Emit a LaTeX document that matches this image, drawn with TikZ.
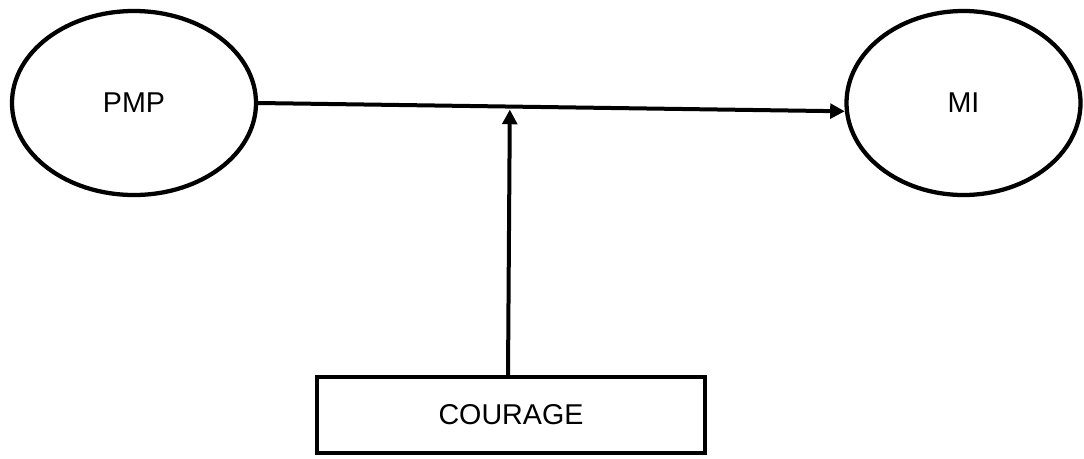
\documentclass[tikz,border=0pt]{standalone}
\usepackage{fontspec}
\setmainfont{Liberation Sans}
\usetikzlibrary{shapes.geometric,arrows.meta,calc}
\begin{document}
\begin{tikzpicture}[x=0.75pt,y=-0.75pt,
  every node/.style={font=\fontsize{21.5}{26}\selectfont},
  oval/.style={ellipse,draw,line width=3.2pt,inner sep=0pt},
  boxnode/.style={rectangle,draw,line width=3.2pt,inner sep=0pt,minimum width=291pt,minimum height=57pt},
  link/.style={line width=3pt,-{Triangle[length=11pt,width=11pt]}}]
\useasboundingbox (0,0) rectangle (1084,458);
\node[oval,minimum width=183pt,minimum height=138pt] (pmp) at (134,103) {PMP};
\node[oval,minimum width=175.5pt,minimum height=138pt] (mi) at (963.5,103) {MI};
\node[boxnode] (courage) at (511,415) {COURAGE};
\draw[link] (pmp.east) -- (mi.184);
\coordinate (mid) at ($(pmp.east)!0.429!(mi.184)+(0,3)$);
\draw[link] ([xshift=-2.25pt]courage.north) -- (mid);
\end{tikzpicture}
\end{document}
